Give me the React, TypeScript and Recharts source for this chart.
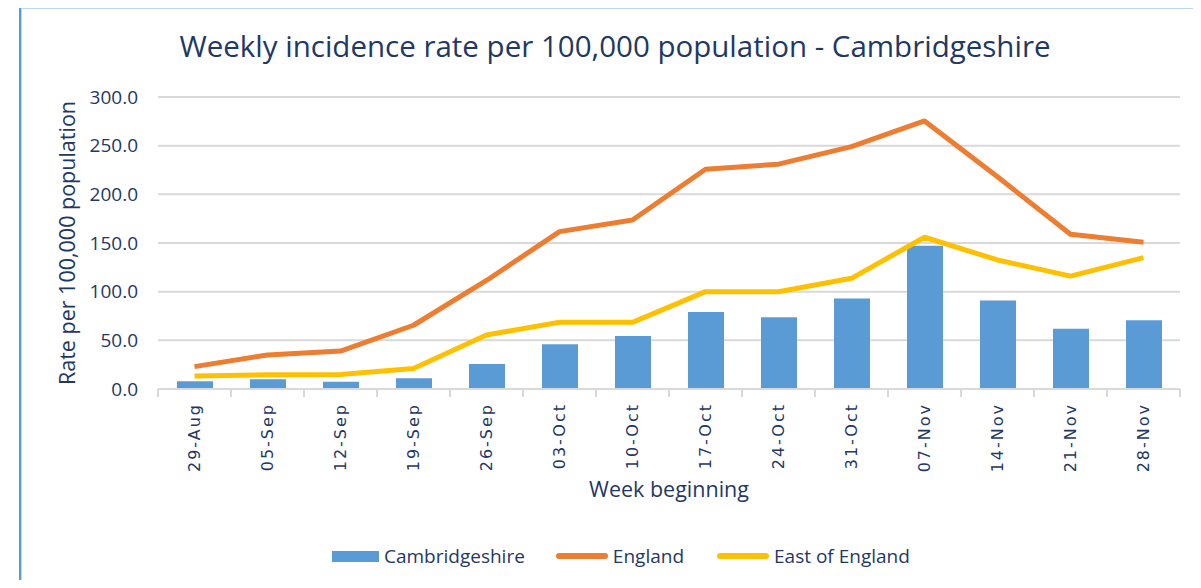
import { ComposedChart, Bar, Line, XAxis, YAxis, CartesianGrid, Legend } from 'recharts'

const weeks = ['29-Aug', '05-Sep', '12-Sep', '19-Sep', '26-Sep', '03-Oct', '10-Oct', '17-Oct', '24-Oct', '31-Oct', '07-Nov', '14-Nov', '21-Nov', '28-Nov']
const cambridgeshire = [8, 10, 7.5, 11, 25.7, 46, 54.5, 79, 73.7, 93, 147.3, 90.8, 62, 70.6]
const england = [23, 35, 39, 65.5, 111.5, 161.7, 173.7, 225.8, 231, 249, 275.4, 218, 159, 150.7]
const eastOfEngland = [13.4, 14.7, 15, 21, 55.5, 68.5, 68.5, 100, 100, 113.7, 155.9, 132.6, 116, 135]
const yTicks = [0, 50, 100, 150, 200, 250, 300]
const legendOrder = ['Cambridgeshire', 'England', 'East of England']

const data = weeks.map((week, i) => ({
  week,
  Cambridgeshire: cambridgeshire[i],
  England: england[i],
  'East of England': eastOfEngland[i],
}))

const NAVY = '#1F3864'
const FONT = '"Open Sans", sans-serif'

const XTick = (props: any) => {
  const { x, y, payload, index } = props
  const half = payload && payload.offset ? payload.offset : 36.5
  return (
    <g>
      <line x1={x - half} y1={y} x2={x - half} y2={y + 8} stroke="#D9D9D9" strokeWidth={2} />
      {index === weeks.length - 1 && (
        <line x1={x + half} y1={y} x2={x + half} y2={y + 8} stroke="#D9D9D9" strokeWidth={2} />
      )}
      <text
        transform={`translate(${x},${y + 14}) rotate(-90)`}
        textAnchor="end"
        dy="0.36em"
        fill={NAVY}
        fontSize={16}
        letterSpacing={2}
        fontFamily='"DejaVu Sans", sans-serif'
      >
        {payload.value}
      </text>
    </g>
  )
}

const YLabel = (props: any) => {
  const vb = props.viewBox || { x: 0, y: 97, width: 158, height: 292 }
  const cx = 67
  const cy = vb.y + vb.height / 2
  return (
    <text
      transform={`translate(${cx},${cy}) rotate(-90)`}
      textAnchor="middle"
      dy="0.36em"
      fill={NAVY}
      fontSize={21.5}
      fontFamily={FONT}
    >
      Rate per 100,000 population
    </text>
  )
}

const LegendContent = (props: any) => {
  const items = [...(props.payload || [])].sort(
    (a: any, b: any) => legendOrder.indexOf(a.value) - legendOrder.indexOf(b.value)
  )
  return (
    <div style={{ height: 89, position: 'relative', fontFamily: FONT }}>
      <div style={{ display: 'flex', alignItems: 'center', position: 'absolute', top: 45, left: 332, height: 24 }}>
        {items.map((it: any, i: number) => (
          <div key={it.value} style={{ display: 'flex', alignItems: 'center', marginRight: i === 0 ? 31 : 33 }}>
            {it.type === 'rect' ? (
              <div style={{ width: 47, height: 11, background: it.color }} />
            ) : (
              <div style={{ width: 52, height: 6, borderRadius: 3, background: it.color }} />
            )}
            <span style={{ marginLeft: 5, fontSize: 19, color: NAVY }}>{it.value}</span>
          </div>
        ))}
      </div>
    </div>
  )
}

export default function App() {
  return (
    <div style={{ position: 'relative', width: 1201, height: 588, margin: -8, background: '#fff', overflow: 'hidden' }}>
      <div
        style={{
          position: 'absolute',
          left: 19,
          top: 6,
          width: 1300,
          height: 700,
          borderLeft: '2px solid #5B9BD5',
          borderTop: '2px solid #5B9BD5',
          boxShadow: 'inset 1px 1px 0 #BDD7EE',
        }}
      />
      <div
        style={{
          position: 'absolute',
          top: 25,
          left: 0,
          width: 1230,
          textAlign: 'center',
          fontFamily: FONT,
          fontSize: 29.5,
          color: NAVY,
        }}
      >
        Weekly incidence rate per 100,000 population - Cambridgeshire
      </div>
      <div style={{ position: 'absolute', left: 0, top: 0 }}>
        <ComposedChart width={1201} height={588} data={data} margin={{ top: 97, right: 21, bottom: 0, left: 0 }}>
          <CartesianGrid vertical={false} stroke="#D9D9D9" strokeWidth={2} />
          <XAxis
            dataKey="week"
            height={110}
            tickSize={0}
            tickMargin={0}
            tickLine={false}
            axisLine={{ stroke: '#D9D9D9', strokeWidth: 2 }}
            tick={<XTick />}
            interval={0}
            label={{ value: 'Week beginning', position: 'insideBottom', offset: 2, fill: NAVY, fontSize: 21.5, fontFamily: FONT }}
          />
          <YAxis
            domain={[0, 300]}
            ticks={yTicks}
            width={158}
            axisLine={false}
            tickLine={false}
            tickMargin={14}
            tickFormatter={(v: number) => v.toFixed(1)}
            tick={{ fill: NAVY, fontSize: 19, fontFamily: FONT }}
            label={<YLabel />}
          />
          <Legend verticalAlign="bottom" content={<LegendContent />} />
          <Bar dataKey="Cambridgeshire" fill="#5B9BD5" barSize={36} isAnimationActive={false} legendType="rect" />
          <Line
            dataKey="England"
            type="linear"
            stroke="#ED7D31"
            strokeWidth={5}
            dot={false}
            activeDot={false}
            strokeLinejoin="round"
            isAnimationActive={false}
          />
          <Line
            dataKey="East of England"
            type="linear"
            stroke="#FFC000"
            strokeWidth={5}
            dot={false}
            activeDot={false}
            strokeLinejoin="round"
            isAnimationActive={false}
          />
        </ComposedChart>
      </div>
    </div>
  )
}
